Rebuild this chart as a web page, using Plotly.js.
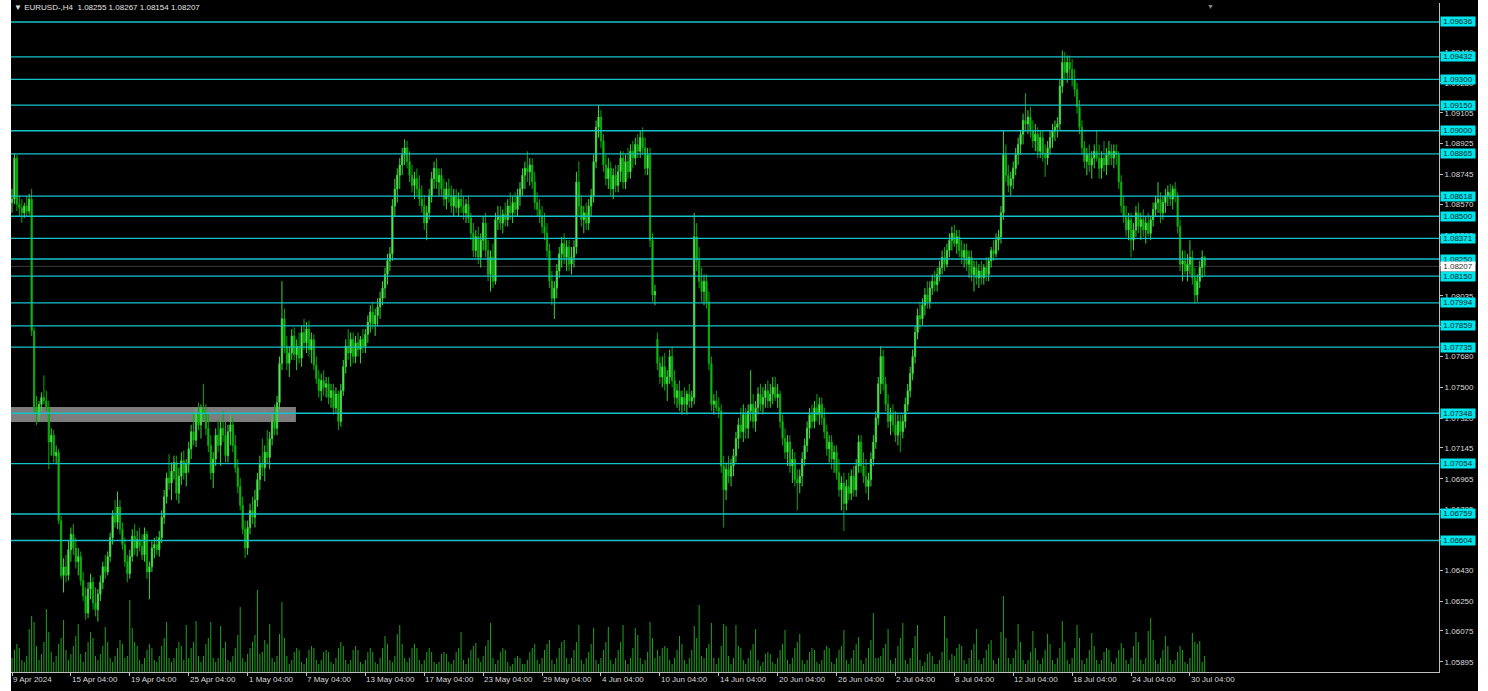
<!DOCTYPE html>
<html><head><meta charset="utf-8">
<script src="https://cdn.plot.ly/plotly-3.0.1.min.js"></script>
<style>html,body{margin:0;padding:0;background:#fff;}#chart{width:1488px;height:691px;}</style>
</head><body><div id="chart"></div>
<script>
// ---- data (prices in pips above 1.0000, i.e. 858 -> 1.0858) ----
const symbolTitle = "EURUSD-,H4";
const lastQuote = [1.08255, 1.08267, 1.08154, 1.08207];
const tickIdx = [0,24,48,72,96,120,144,168,192,216,240,264,288,312,336,360,384,408,432,456,480];
const tickLabels = ["9 Apr 2024","15 Apr 04:00","19 Apr 04:00","25 Apr 04:00","1 May 04:00","7 May 04:00","13 May 04:00","17 May 04:00","23 May 04:00","29 May 04:00","4 Jun 04:00","10 Jun 04:00","14 Jun 04:00","20 Jun 04:00","26 Jun 04:00","2 Jul 04:00","8 Jul 04:00","12 Jul 04:00","18 Jul 04:00","24 Jul 04:00","30 Jul 04:00"];
const openPips = [
858,860,884,857,855,852,856,853,860,783,
738,734,740,744,742,738,718,722,710,712,
672,640,645,640,655,664,656,648,651,637,
628,618,632,636,624,620,629,636,645,642,
651,662,675,671,680,667,658,648,641,651,
663,656,661,657,652,664,642,645,656,658,
655,662,674,686,697,694,701,706,688,698,
707,700,705,714,724,719,735,728,737,735,
726,716,700,708,722,716,726,722,710,724,
728,716,703,692,681,667,656,668,678,674,
684,696,705,703,712,709,720,730,726,741,
764,790,774,764,770,780,769,774,767,782,
776,784,772,778,763,755,748,754,750,752,
744,748,738,746,730,748,762,774,770,778,
768,776,772,778,774,781,788,794,787,792,
797,802,808,816,824,828,856,866,874,880,
886,890,882,874,868,872,866,860,856,846,
852,862,872,878,870,874,866,860,866,862,
856,862,855,860,856,852,857,849,840,830,
838,826,836,846,830,816,826,812,848,850,
846,851,848,856,852,858,854,862,866,874,
878,876,880,870,858,854,850,844,840,830,
812,802,808,818,828,834,826,832,822,826,
832,870,856,848,852,846,856,862,882,902,
908,894,880,872,878,866,874,868,876,884,
870,882,876,888,884,892,888,896,890,878,
886,836,804,778,764,756,762,752,756,768,
754,744,748,740,744,740,746,742,744,838,
824,812,806,812,800,764,740,742,738,736,
704,690,702,698,704,710,720,728,724,734,
726,736,740,730,738,746,740,744,748,742,
746,750,744,746,730,720,712,718,704,708,
696,694,698,708,716,726,734,730,738,734,
740,732,724,714,718,708,712,700,690,694,
682,692,688,698,690,704,718,704,698,692,
696,708,718,732,752,768,752,740,730,734,
728,722,730,724,730,740,748,758,768,782,
792,790,798,804,800,808,812,810,816,820,
826,822,830,836,840,834,838,830,826,830,
822,826,816,820,814,818,814,820,816,824,
830,828,836,838,852,886,874,868,872,878,
886,892,898,906,904,908,900,894,898,888,
896,886,884,890,896,900,902,904,926,940,
934,940,936,930,924,914,902,890,882,886,
880,884,888,884,878,884,880,886,888,884,
888,886,870,856,850,842,848,836,842,852,
844,848,842,846,840,848,854,858,860,852,
858,862,864,860,866,862,844,822,824,818,
822,826,814,804,812,820,826];
const highPips = [
866,887,886,862,860,858,862,863,866,785,
745,742,747,757,748,742,726,725,716,714,
675,650,652,660,668,670,662,656,654,642,
633,636,641,639,633,632,640,648,652,654,
665,678,684,689,684,671,662,652,655,667,
670,666,668,664,668,666,648,660,662,663,
666,678,690,700,711,706,710,710,703,712,
713,708,718,728,734,738,741,740,752,740,
734,722,712,726,731,730,736,730,728,734,
732,722,708,697,686,672,672,682,686,690,
700,710,720,716,725,724,734,740,745,768,
812,796,780,774,784,785,778,782,786,790,
788,789,782,781,768,760,758,760,756,756,
752,752,750,748,752,766,778,784,782,782,
780,782,780,784,784,792,798,800,796,802,
806,812,820,828,832,860,872,878,884,890,
895,894,888,880,876,878,874,868,862,856,
866,876,882,884,878,878,872,870,872,868,
866,866,864,866,862,860,862,852,846,842,
844,840,850,852,836,830,834,852,856,856,
854,858,860,864,862,864,866,870,878,882,
888,884,884,876,864,860,856,852,846,834,
818,812,822,832,838,840,836,836,832,836,
876,882,862,856,858,860,866,886,906,915,
912,898,886,884,882,878,880,880,888,888,
886,890,892,894,896,898,900,902,896,890,
890,840,810,782,768,768,770,760,772,774,
760,752,754,748,750,748,752,748,852,846,
832,820,816,816,806,768,746,748,744,740,
710,706,710,708,714,724,732,738,740,738,
740,760,746,742,750,752,750,752,754,752,
756,756,752,748,734,726,722,722,714,712,
702,702,712,720,730,738,740,742,746,744,
744,738,728,722,722,716,716,708,698,700,
696,700,702,704,708,722,722,712,708,700,
712,722,736,756,774,772,756,746,738,740,
736,734,734,734,744,752,762,772,786,796,
800,802,808,812,812,816,818,820,824,830,
832,834,840,844,845,842,842,836,834,834,
830,830,824,824,822,824,822,826,826,832,
836,840,842,856,900,892,880,876,882,890,
896,900,910,922,912,914,906,904,902,900,
900,892,894,900,904,906,908,930,947,946,
944,944,942,936,928,918,906,894,890,892,
888,892,900,892,888,894,890,894,892,892,
892,888,874,862,856,852,852,846,856,858,
852,854,850,852,850,858,862,870,864,862,
866,868,869,868,870,864,848,830,830,828,
836,830,820,816,824,830,827];
const lowPips = [
852,857,853,850,846,849,850,851,780,735,
728,730,736,740,736,702,710,706,705,670,
638,630,636,637,648,652,644,640,634,625,
614,615,626,620,616,613,625,632,638,640,
648,658,668,667,664,655,645,636,638,648,
652,651,654,649,648,638,626,642,650,652,
651,659,670,682,690,684,696,684,682,693,
696,692,700,708,716,715,725,720,731,722,
712,696,691,704,712,704,718,706,706,716,
712,700,688,678,664,650,652,664,670,668,
680,690,698,695,705,702,716,722,722,737,
760,770,760,756,766,766,760,764,762,772,
770,768,764,760,752,744,742,745,744,740,
738,734,735,725,727,745,758,766,762,764,
764,768,764,770,770,776,782,784,780,786,
790,798,802,810,818,824,850,858,866,874,
880,878,870,864,860,862,856,852,842,836,
848,858,866,866,862,862,856,854,858,852,
850,852,850,852,848,846,846,836,826,826,
822,820,830,826,812,806,808,810,842,842,
840,844,844,848,846,850,850,856,862,866,
870,868,866,854,850,846,840,836,826,808,
798,790,802,814,820,822,818,818,816,820,
828,850,844,840,842,842,850,858,878,896,
890,876,868,866,862,860,864,864,870,866,
866,872,872,878,880,884,884,886,874,874,
832,800,798,760,752,750,748,742,752,750,
740,738,736,734,736,734,738,738,740,818,
808,800,798,796,760,736,734,736,732,700,
668,684,694,692,698,706,714,720,718,720,
720,730,726,724,734,736,734,738,738,738,
740,742,738,726,716,708,704,700,694,692,
678,688,692,704,712,720,726,726,730,728,
728,720,710,706,702,700,696,686,678,666,
678,684,684,686,686,700,700,694,688,684,
692,704,714,728,746,748,736,726,722,724,
718,716,712,720,726,736,744,754,764,778,
784,786,792,796,796,804,806,806,812,816,
818,820,826,830,832,828,826,822,820,818,
814,812,806,810,808,810,810,812,812,820,
824,826,830,834,848,870,864,862,866,874,
880,886,892,900,898,896,890,888,884,884,
882,873,880,886,890,894,896,900,922,930,
928,930,926,920,910,898,886,878,874,876,
872,878,882,872,872,876,874,880,880,878,
880,866,852,846,838,836,826,830,838,840,
836,838,834,838,836,844,850,852,846,848,
852,856,856,854,858,840,818,812,816,812,
816,810,799,800,808,814,815];
const closePips = [
860,884,857,855,852,856,853,860,783,738,
734,740,744,742,738,718,722,710,712,672,
640,645,640,655,664,656,648,651,637,628,
618,632,636,624,620,629,636,645,642,651,
662,675,671,680,667,658,648,641,651,663,
656,661,657,652,664,642,645,656,658,655,
662,674,686,697,694,701,706,688,698,707,
700,705,714,724,719,735,728,737,735,726,
716,700,708,722,716,726,722,710,724,728,
716,703,692,681,667,656,668,678,674,684,
696,705,703,712,709,720,730,726,741,764,
790,774,764,770,780,769,774,767,782,776,
784,772,778,763,755,748,754,750,752,744,
748,738,746,730,748,762,774,770,778,768,
776,772,778,774,781,788,794,787,792,797,
802,808,816,824,828,856,866,874,880,886,
890,882,874,868,872,866,860,856,846,852,
862,872,878,870,874,866,860,866,862,856,
862,855,860,856,852,857,849,840,830,838,
826,836,846,830,816,826,812,848,850,846,
851,848,856,852,858,854,862,866,874,878,
876,880,870,858,854,850,844,840,830,812,
802,808,818,828,834,826,832,822,826,832,
870,856,848,852,846,856,862,882,902,908,
894,880,872,878,866,874,868,876,884,870,
882,876,888,884,892,888,896,890,878,886,
836,804,806,764,756,762,752,756,768,754,
744,748,740,744,740,746,742,744,838,824,
812,806,812,800,764,740,742,738,736,704,
690,702,698,704,710,720,728,724,734,726,
736,740,730,738,746,740,744,748,742,746,
750,744,746,730,720,712,718,704,708,696,
694,698,708,716,726,734,730,738,734,740,
732,724,714,718,708,712,700,690,694,682,
692,688,698,690,704,718,704,698,692,696,
708,718,732,752,768,752,740,730,734,728,
722,730,724,730,740,748,758,768,782,792,
790,798,804,800,808,812,810,816,820,826,
822,830,836,840,834,838,830,826,830,822,
826,816,820,814,818,814,820,816,824,830,
828,836,838,852,886,874,868,872,878,886,
892,898,906,904,908,900,894,898,888,896,
886,884,890,896,900,902,904,926,940,934,
940,936,930,924,914,902,890,882,886,880,
884,888,884,878,884,880,886,888,884,888,
886,870,856,850,842,848,836,842,852,844,
848,842,846,840,848,854,858,860,852,858,
862,864,860,866,862,844,822,824,818,822,
826,814,804,812,820,826,821];
const tickVolume = [
14,22,28,24,12,
10,16,43,56,50,26, 12,18,30,63,40,20, 10,16,28,34,52,22, 12,18,26,36,48,18,
10,20,30,40,34,16, 12,18,26,45,30,14, 10,16,24,32,28,14, 16,72,44,30,26,12,
8,14,22,28,24,12, 10,16,26,34,50,14, 10,14,24,30,26,12, 47,14,24,30,51,16,
10,16,28,34,50,14, 10,14,46,24,30,12, 10,16,24,37,65,14, 10,18,24,30,37,82,
18,20,32,28,48,14, 10,16,38,70,34,16, 8,12,20,24,22,10, 8,14,22,26,24,12,
8,12,20,22,20,10, 8,14,24,30,26,12, 8,12,22,26,22,10, 8,12,20,24,20,10,
8,14,24,36,28,12, 10,16,38,47,28,14, 10,14,24,28,24,12, 8,12,20,24,20,10,
8,10,18,20,18,10, 8,12,20,24,40,12, 8,14,22,26,29,14, 10,16,26,32,49,14,
8,12,20,24,22,10, 6,8,14,16,14,8, 8,12,20,24,28,12, 8,14,22,28,32,12,
8,14,24,30,32,14, 8,14,22,30,47,12, 8,14,20,28,44,12, 8,14,22,30,45,12,
8,14,22,30,47,12, 8,14,24,44,37,14, 8,12,20,50,34,14, 22,16,24,26,24,12,
8,14,22,36,28,12, 8,14,22,46,34,67, 16,14,24,28,49,14, 8,14,26,48,46,16,
8,14,47,26,24,12, 8,14,22,28,43,12, 6,10,18,20,18,10, 8,14,22,28,42,12,
8,14,24,30,38,12, 8,12,20,24,22,10, 8,12,22,26,24,10, 8,14,22,26,42,12,
8,14,22,28,35,12, 8,14,24,32,59,14, 14,16,24,28,43,12, 8,14,26,34,49,12,
8,14,24,36,47,12, 6,10,18,20,16,8, 8,12,20,56,34,12, 18,16,24,28,26,12,
8,14,22,28,43,12, 8,14,22,28,32,12, 8,14,40,76,34,14, 8,14,22,48,30,12,
8,12,20,41,24,12, 8,14,22,38,28,12, 8,14,24,51,30,12, 8,14,24,47,34,12,
8,14,22,39,26,12, 8,12,20,24,22,10, 8,14,22,29,24,12, 8,14,26,40,30,12,
8,14,41,54,32,12, 8,14,22,36,26,12, 8,12,20,26,22,10, 8,14,39,30,28,31,
10,16];
const levelLines = [1.09636,1.09432,1.09300,1.09150,1.09000,1.08865,1.08618,1.08500,1.08371,1.08250,1.08150,1.07994,1.07859,1.07735,1.07348,1.07054,1.06759,1.06604];
const priceTicks = [1.09460,1.09280,1.09105,1.08925,1.08745,1.08570,1.08390,1.08210,1.08035,1.07855,1.07680,1.07500,1.07320,1.07145,1.06965,1.06785,1.06610,1.06430,1.06250,1.06075,1.05895];
const bidPrice = 1.08207;
const zone = {top: 1.07385, bottom: 1.07297, endBar: 115.7};

// ---- build ----
const toPrice = v => 1 + v / 10000;
const barIndex = openPips.map((_, i) => i);
const FONT = 'Liberation Sans, Arial, sans-serif';
const PW = 1428, PH = 669, ML = 11, MT = 3;
const px2paperX = px => (px - ML) / PW;
const px2paperY = py => (MT + PH - py) / PH;

const volumeTrace = {
  type: 'bar', x: barIndex, y: tickVolume, xaxis: 'x', yaxis: 'y',
  width: 0.42, marker: {color: '#1e9e1e', line: {width: 0}}, hoverinfo: 'skip'
};
const candleTrace = {
  type: 'candlestick', x: barIndex,
  open: openPips.map(toPrice), high: highPips.map(toPrice),
  low: lowPips.map(toPrice), close: closePips.map(toPrice),
  xaxis: 'x', yaxis: 'y2', whiskerwidth: 0,
  increasing: {line: {color: '#3ad43a', width: 1}, fillcolor: '#9aff9a'},
  decreasing: {line: {color: '#08a808', width: 1}, fillcolor: '#2ccc2c'},
  hoverinfo: 'skip'
};

const shapes = [];
shapes.push({type: 'rect', xref: 'x', yref: 'y2', x0: -5, x1: zone.endBar, y0: zone.bottom, y1: zone.top,
  fillcolor: '#7d7d7d', line: {width: 0}, layer: 'below'});
shapes.push({type: 'line', xref: 'paper', yref: 'y2', x0: 0, x1: 1, y0: bidPrice, y1: bidPrice,
  line: {color: '#3a3a3a', width: 1}, layer: 'below'});
levelLines.forEach(v => shapes.push({type: 'line', xref: 'paper', yref: 'y2', x0: 0, x1: 1, y0: v, y1: v,
  line: {color: '#14c3c8', width: 1.3}, layer: 'above'}));
// white outer window strips
shapes.push({type: 'rect', xref: 'paper', yref: 'paper', x0: px2paperX(0), x1: px2paperX(11), y0: px2paperY(691), y1: px2paperY(0),
  fillcolor: '#ffffff', line: {width: 0}, layer: 'above'});
shapes.push({type: 'rect', xref: 'paper', yref: 'paper', x0: px2paperX(1478), x1: px2paperX(1488), y0: px2paperY(691), y1: px2paperY(0),
  fillcolor: '#ffffff', line: {width: 0}, layer: 'above'});

const annotations = [];
annotations.push({xref: 'paper', yref: 'paper', x: px2paperX(12), y: px2paperY(7.5), xanchor: 'left', yanchor: 'middle',
  showarrow: false, text: '\u25BC ' + symbolTitle + '\u00a0\u00a0' + lastQuote.map(v => v.toFixed(5)).join(' '),
  font: {family: FONT, size: 8, color: '#e4e4e4'}});
annotations.push({xref: 'paper', yref: 'paper', x: px2paperX(1210), y: px2paperY(1), xanchor: 'center', yanchor: 'top',
  showarrow: false, text: '\u25BC', font: {family: FONT, size: 7, color: '#8a8a8a'}});
tickIdx.forEach((ix, k) => annotations.push({xref: 'x', yref: 'paper', x: ix, y: px2paperY(679.5), xanchor: 'left', yanchor: 'middle',
  showarrow: false, text: tickLabels[k], xshift: -1, font: {family: FONT, size: 8, color: '#d8d8d8'}}));
levelLines.forEach(v => annotations.push({xref: 'paper', yref: 'y2', x: px2paperX(1440), y: v, xanchor: 'left', yanchor: 'middle',
  showarrow: false, text: v.toFixed(5), bgcolor: '#00e4ec', borderpad: 0, width: 34, height: 9,
  font: {family: FONT, size: 8, color: '#00282a'}}));
annotations.push({xref: 'paper', yref: 'y2', x: px2paperX(1440), y: bidPrice, xanchor: 'left', yanchor: 'middle',
  showarrow: false, text: bidPrice.toFixed(5), bgcolor: '#ffffff', borderpad: 0, width: 34, height: 9,
  font: {family: FONT, size: 8, color: '#303030'}});

const layout = {
  width: 1488, height: 691,
  margin: {l: ML, r: 49, t: MT, b: 19, pad: 0},
  paper_bgcolor: '#000000', plot_bgcolor: '#000000',
  showlegend: false, dragmode: false,
  xaxis: {range: [-0.41, 581.5], tickvals: tickIdx, ticktext: tickIdx.map(() => ''), ticks: 'outside', ticklen: 3,
    tickcolor: '#bdbdbd', showline: true, linecolor: '#bdbdbd', linewidth: 1, showgrid: false, zeroline: false,
    rangeslider: {visible: false}, fixedrange: true},
  yaxis: {range: [0, PH], visible: false, fixedrange: true},
  yaxis2: {overlaying: 'y', side: 'right', range: [1.05835, 1.09747], tickvals: priceTicks,
    ticktext: priceTicks.map(v => v.toFixed(5)), ticks: 'outside', ticklen: 3, tickcolor: '#bdbdbd',
    showline: true, linecolor: '#bdbdbd', linewidth: 1, showgrid: false, zeroline: false, fixedrange: true,
    tickfont: {family: FONT, size: 8, color: '#d8d8d8'}},
  shapes: shapes, annotations: annotations
};
Plotly.newPlot('chart', [volumeTrace, candleTrace], layout, {staticPlot: true, displayModeBar: false});
</script>
</body></html>
